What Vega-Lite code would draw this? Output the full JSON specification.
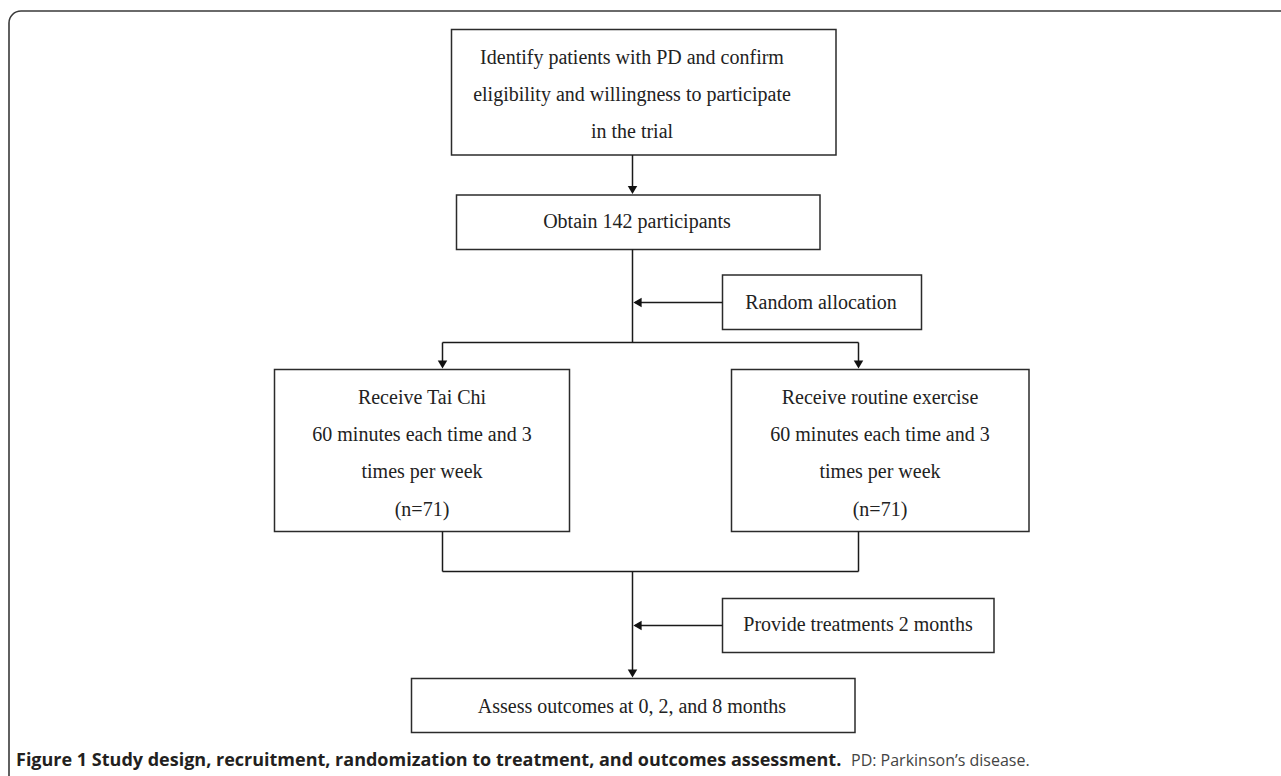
{
  "$schema": "https://vega.github.io/schema/vega-lite/v6.json",
  "autosize": {"type": "fit", "contains": "padding"},
  "width": 1281,
  "height": 776,
  "padding": 0,
  "background": "white",
  "config": {"view": {"stroke": null}, "axis": {"disable": true}},
  "datasets": {
    "frame": [{"x1": 9, "x2": 1300, "y1": 11, "y2": 800}],
    "boxes": [
      {"id": "identify", "x1": 451.5, "x2": 836, "y1": 29.5, "y2": 155},
      {"id": "obtain", "x1": 456.5, "x2": 820, "y1": 195, "y2": 249.5},
      {"id": "random", "x1": 722.5, "x2": 921.5, "y1": 275, "y2": 329.5},
      {"id": "taichi", "x1": 274.5, "x2": 569.5, "y1": 369.5, "y2": 531.5},
      {"id": "routine", "x1": 731.5, "x2": 1029, "y1": 369.5, "y2": 531.5},
      {"id": "provide", "x1": 722.5, "x2": 994, "y1": 598.5, "y2": 652.5},
      {"id": "assess", "x1": 411.5, "x2": 855, "y1": 678.5, "y2": 732.5}
    ],
    "links": [
      {"x1": 632.5, "x2": 632.5, "y1": 155, "y2": 192},
      {"x1": 632.5, "x2": 632.5, "y1": 249.5, "y2": 342.5},
      {"x1": 442.5, "x2": 858.5, "y1": 342.5, "y2": 342.5},
      {"x1": 442.5, "x2": 442.5, "y1": 342.5, "y2": 366},
      {"x1": 858.5, "x2": 858.5, "y1": 342.5, "y2": 366},
      {"x1": 635, "x2": 722.5, "y1": 302.5, "y2": 302.5},
      {"x1": 442.5, "x2": 442.5, "y1": 531.5, "y2": 571.5},
      {"x1": 858.5, "x2": 858.5, "y1": 531.5, "y2": 571.5},
      {"x1": 442.5, "x2": 858.5, "y1": 571.5, "y2": 571.5},
      {"x1": 632.5, "x2": 632.5, "y1": 571.5, "y2": 675},
      {"x1": 635, "x2": 722.5, "y1": 625.5, "y2": 625.5}
    ],
    "arrowsDown": [
      {"x": 632.5, "y": 195},
      {"x": 442.5, "y": 369.5},
      {"x": 858.5, "y": 369.5},
      {"x": 632.5, "y": 678.5}
    ],
    "arrowsLeft": [
      {"x": 632.5, "y": 302.5},
      {"x": 632.5, "y": 625.5}
    ],
    "labels": [
      {"x": 632, "y": 58, "text": "Identify patients with PD and confirm"},
      {"x": 632, "y": 95, "text": "eligibility  and willingness  to participate"},
      {"x": 632, "y": 132, "text": "in the trial"},
      {"x": 637, "y": 222, "text": "Obtain 142 participants"},
      {"x": 821, "y": 303, "text": "Random allocation"},
      {"x": 422, "y": 398, "text": "Receive Tai  Chi"},
      {"x": 422, "y": 435, "text": "60 minutes  each time and 3"},
      {"x": 422, "y": 472, "text": "times per week"},
      {"x": 422, "y": 510, "text": "(n=71)"},
      {"x": 880, "y": 398, "text": "Receive routine exercise"},
      {"x": 880, "y": 435, "text": "60 minutes  each time and 3"},
      {"x": 880, "y": 472, "text": "times per week"},
      {"x": 880, "y": 510, "text": "(n=71)"},
      {"x": 858, "y": 625, "text": "Provide treatments 2 months"},
      {"x": 632, "y": 707, "text": "Assess outcomes at 0, 2, and 8 months"}
    ],
    "captionBold": [{"x": 16, "y": 761, "text": "Figure 1 Study design, recruitment, randomization to treatment, and outcomes assessment."}],
    "captionPlain": [{"x": 851, "y": 761, "text": "PD: Parkinson’s disease."}]
  },
  "layer": [
    {
      "data": {"name": "frame"},
      "mark": {"type": "rect", "fill": null, "stroke": "#3a3a3a", "strokeWidth": 1.6, "cornerRadius": 12, "clip": true},
      "encoding": {
        "x": {"field": "x1", "type": "quantitative", "scale": {"domain": [0, 1281], "nice": false, "zero": false}, "axis": null},
        "x2": {"field": "x2"},
        "y": {"field": "y1", "type": "quantitative", "scale": {"domain": [776, 0], "nice": false, "zero": false}, "axis": null},
        "y2": {"field": "y2"}
      }
    },
    {
      "data": {"name": "boxes"},
      "mark": {"type": "rect", "fill": "white", "stroke": "#2b2b2b", "strokeWidth": 1.5},
      "encoding": {
        "x": {"field": "x1", "type": "quantitative"},
        "x2": {"field": "x2"},
        "y": {"field": "y1", "type": "quantitative"},
        "y2": {"field": "y2"}
      }
    },
    {
      "data": {"name": "links"},
      "mark": {"type": "rule", "stroke": "#1a1a1a", "strokeWidth": 1.5},
      "encoding": {
        "x": {"field": "x1", "type": "quantitative"},
        "x2": {"field": "x2"},
        "y": {"field": "y1", "type": "quantitative"},
        "y2": {"field": "y2"}
      }
    },
    {
      "data": {"name": "arrowsDown"},
      "mark": {"type": "point", "shape": "triangle-down", "filled": true, "fill": "#111", "opacity": 1, "size": 90, "yOffset": -5},
      "encoding": {
        "x": {"field": "x", "type": "quantitative"},
        "y": {"field": "y", "type": "quantitative"}
      }
    },
    {
      "data": {"name": "arrowsLeft"},
      "mark": {"type": "point", "shape": "triangle-left", "filled": true, "fill": "#111", "opacity": 1, "size": 90, "xOffset": 5},
      "encoding": {
        "x": {"field": "x", "type": "quantitative"},
        "y": {"field": "y", "type": "quantitative"}
      }
    },
    {
      "data": {"name": "labels"},
      "mark": {"type": "text", "font": "Liberation Serif", "fontSize": 20, "fill": "#222", "align": "center", "baseline": "middle"},
      "encoding": {
        "x": {"field": "x", "type": "quantitative"},
        "y": {"field": "y", "type": "quantitative"},
        "text": {"field": "text", "type": "nominal"}
      }
    },
    {
      "data": {"name": "captionBold"},
      "mark": {"type": "text", "font": "Open Sans", "fontSize": 18, "fontWeight": "bold", "fill": "#231f20", "align": "left", "baseline": "middle"},
      "encoding": {
        "x": {"field": "x", "type": "quantitative"},
        "y": {"field": "y", "type": "quantitative"},
        "text": {"field": "text", "type": "nominal"}
      }
    },
    {
      "data": {"name": "captionPlain"},
      "mark": {"type": "text", "font": "Open Sans", "fontSize": 16, "fill": "#444", "align": "left", "baseline": "middle"},
      "encoding": {
        "x": {"field": "x", "type": "quantitative"},
        "y": {"field": "y", "type": "quantitative"},
        "text": {"field": "text", "type": "nominal"}
      }
    }
  ]
}
